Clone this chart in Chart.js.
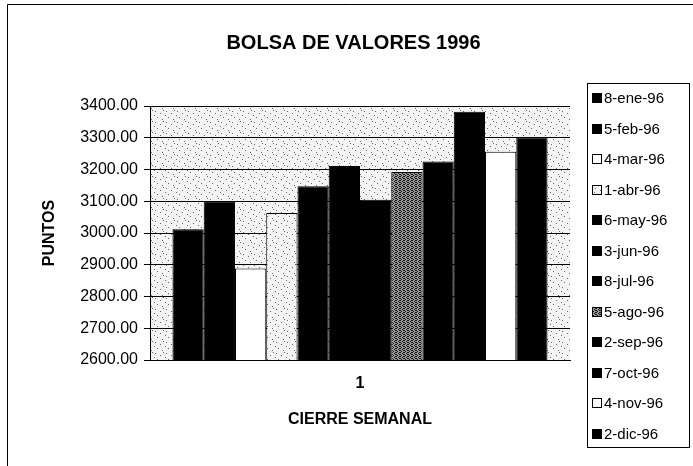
<!DOCTYPE html>
<html>
<head>
<meta charset="utf-8">
<script src="https://cdn.jsdelivr.net/npm/chart.js@4"></script>
<style>
  html, body { margin: 0; padding: 0; background: #fff; }
  #wrap { width: 693px; height: 466px; position: relative; }
</style>
</head>
<body>
<div id="wrap"><canvas id="c" width="693" height="466"></canvas></div>
<script>
// ---- data ----
const categories = ['1'];
const seriesNames = ['8-ene-96','5-feb-96','4-mar-96','1-abr-96','6-may-96','3-jun-96','8-jul-96','5-ago-96','2-sep-96','7-oct-96','4-nov-96','2-dic-96'];
const seriesValues = [3012, 3100, 2888, 3063, 3147, 3211, 3105, 3192, 3225, 3382, 3256, 3301];
const yTicks = [2600, 2700, 2800, 2900, 3000, 3100, 3200, 3300, 3400];
const fillKinds = ['black','black','white','light','black','black','black','dense','black','black','white','black'];

const FONT = "'Liberation Sans', Arial, Helvetica, sans-serif";
const canvas = document.getElementById('c');
const ctx = canvas.getContext('2d');

function makePattern(bg, dot, pts, size) {
  const c = document.createElement('canvas');
  c.width = size; c.height = size;
  const g = c.getContext('2d');
  g.fillStyle = bg; g.fillRect(0, 0, size, size);
  g.fillStyle = dot;
  pts.forEach(p => g.fillRect(p[0], p[1], 1, 1));
  return ctx.createPattern(c, 'repeat');
}
const lightPat = makePattern('#f4f4f4', '#666', [[1,1],[6,3],[3,7],[8,9],[0,5],[9,0]], 11);
const densePat = makePattern('#9a9a9a', '#111', [[0,0],[2,1],[1,3],[3,2],[0,2],[3,0]], 4);
const fills = { black: '#000', white: '#fff', light: lightPat, dense: densePat };

const datasets = seriesNames.map((name, i) => ({
  label: name,
  data: [seriesValues[i]],
  backgroundColor: fills[fillKinds[i]],
  borderColor: '#000',
  borderWidth: 1,
  categoryPercentage: 0.893,
  barPercentage: 1.0
}));

const bgPlugin = {
  id: 'plotBg',
  beforeDraw(chart) {
    const a = chart.chartArea, g = chart.ctx;
    g.save();
    g.fillStyle = lightPat;
    g.fillRect(a.left, a.top, a.right - a.left, a.bottom - a.top);
    g.restore();
  }
};

const legendPlugin = {
  id: 'boxLegend',
  afterDraw(chart) {
    const g = chart.ctx;
    g.save();
    g.strokeStyle = '#000'; g.lineWidth = 1;
    g.beginPath();
    g.moveTo(7.5, 466); g.lineTo(7.5, 4.5); g.lineTo(693, 4.5);
    g.stroke();
    g.strokeRect(587.5, 83.5, 102, 364);
    g.font = '15px ' + FONT;
    g.textBaseline = 'middle';
    g.textAlign = 'left';
    chart.data.datasets.forEach((ds, i) => {
      const cy = 98 + i * 30.5;
      g.fillStyle = ds.backgroundColor;
      g.fillRect(592, Math.round(cy - 5), 10, 10);
      g.strokeStyle = '#000';
      g.strokeRect(592.5, Math.round(cy - 5) + 0.5, 9, 9);
      g.fillStyle = '#000';
      g.fillText(ds.label, 604, cy + 1);
    });
    g.restore();
  }
};

new Chart(canvas, {
  type: 'bar',
  data: { labels: categories, datasets },
  options: {
    responsive: false,
    animation: false,
    devicePixelRatio: 1,
    layout: { padding: { top: 10, left: 14, right: 0, bottom: 36.6 } },
    plugins: {
      legend: { display: false },
      tooltip: { enabled: false },
      title: {
        display: true,
        text: 'BOLSA DE VALORES 1996',
        color: '#000',
        font: { family: FONT, size: 20, weight: 'bold' },
        padding: { top: 21, bottom: 51 }
      }
    },
    scales: {
      x: {
        type: 'category',
        afterFit(s) { s.height = 69.4; },
        grid: { display: false, drawTicks: false },
        border: { display: true, color: '#000', width: 1 },
        ticks: { color: '#000', padding: 14, font: { family: FONT, size: 16, weight: 'bold' } },
        title: {
          display: true, text: 'CIERRE SEMANAL', color: '#000',
          font: { family: FONT, size: 16, weight: 'bold' },
          padding: { top: 17, bottom: 0 }
        }
      },
      y: {
        position: 'left',
        min: 2600, max: 3400,
        afterBuildTicks(s) { s.ticks = yTicks.map(v => ({ value: v })); },
        afterFit(s) { s.width = 136; },
        grid: { color: '#000', lineWidth: 1, drawTicks: true, tickLength: 6, tickColor: '#000' },
        border: { display: true, color: '#000', width: 1 },
        ticks: {
          color: '#000', padding: 6,
          font: { family: FONT, size: 16 },
          callback: v => Number(v).toFixed(2)
        },
        title: {
          display: true, text: 'PUNTOS', color: '#000',
          font: { family: FONT, size: 16, weight: 'bold' },
          padding: { top: 26, bottom: 0 }
        }
      },
      yRight: {
        type: 'linear',
        position: 'right',
        display: true,
        afterFit(s) { s.width = 123; },
        grid: { display: false, drawTicks: false },
        border: { display: false },
        ticks: { display: false }
      }
    }
  },
  plugins: [bgPlugin, legendPlugin]
});
</script>
</body>
</html>
